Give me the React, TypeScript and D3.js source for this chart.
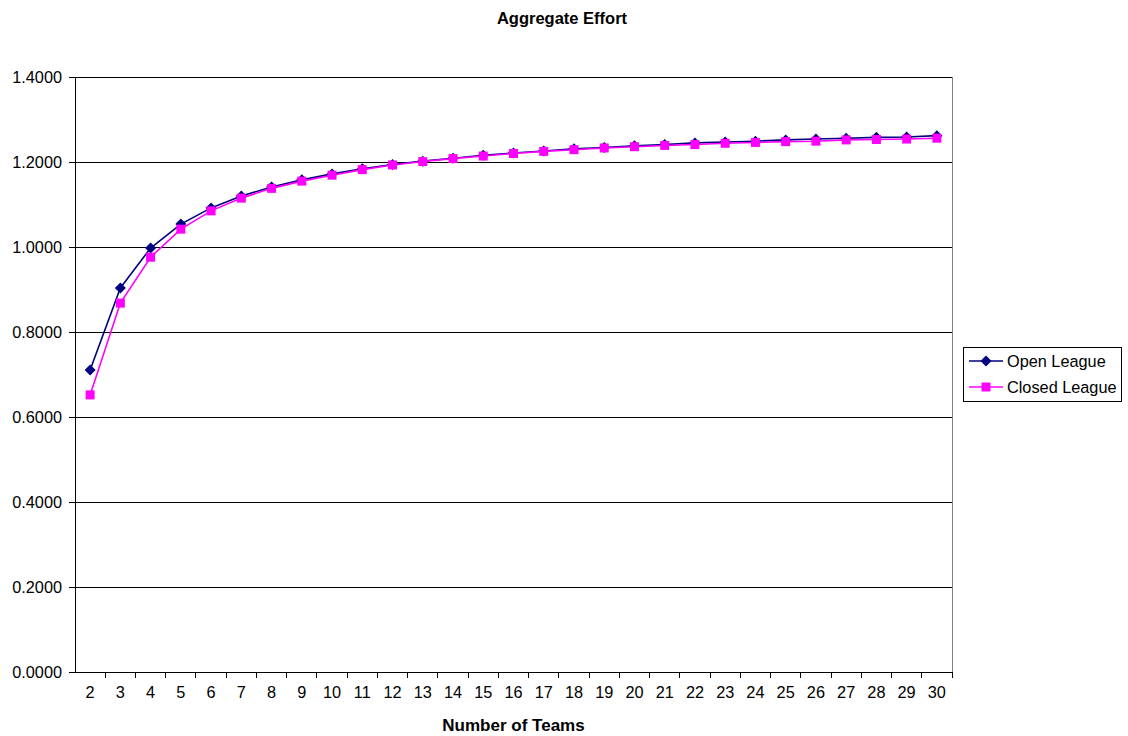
import * as React from "react";
import { scaleBand, scaleLinear, line as d3Line, range } from "d3";

const teams: number[] = range(2, 31);
const openLeague: number[] = [
  0.7106, 0.9035, 0.9976, 1.054, 1.092, 1.12, 1.141, 1.158, 1.172, 1.184,
  1.194, 1.202, 1.209, 1.216, 1.221, 1.226, 1.231, 1.234, 1.238, 1.241,
  1.245, 1.247, 1.249, 1.252, 1.254, 1.256, 1.258, 1.259, 1.262,
];
const closedLeague: number[] = [
  0.652, 0.868, 0.976, 1.042, 1.085, 1.115, 1.138, 1.155, 1.169, 1.182,
  1.193, 1.201, 1.208, 1.214, 1.22, 1.225, 1.229, 1.233, 1.236, 1.239,
  1.241, 1.244, 1.246, 1.248, 1.249, 1.252, 1.253, 1.254, 1.256,
];
const yTicks: number[] = [0, 0.2, 0.4, 0.6, 0.8, 1.0, 1.2, 1.4];

const W = 1128;
const H = 736;
const margin = { top: 77, right: 176, bottom: 64, left: 75 };
const font = "'Liberation Sans', Arial, sans-serif";

// excel style markers
const diamond = "M0,-5.5L5.5,0L0,5.5L-5.5,0Z";
const square = "M-4.5,-4.5H4.5V4.5H-4.5Z";

const App = () => {
  const innerW = W - margin.left - margin.right;
  const innerH = H - margin.top - margin.bottom;

  const x = scaleBand<number>().domain(teams).range([0, innerW]);
  const y = scaleLinear().domain([0, 1.4]).range([innerH, 0]);
  const cx = (t: number) => (x(t) as number) + x.bandwidth() / 2;

  const line = d3Line<number>()
    .x((_, i) => cx(teams[i]))
    .y(d => y(d));

  const series = [
    { name: "Open League", values: openLeague, color: "#000080", marker: diamond },
    { name: "Closed League", values: closedLeague, color: "#FF00FF", marker: square },
  ];

  return (
    <svg
      width={W}
      height={H}
      style={{ position: "absolute", left: 0, top: 0, background: "#fff" }}
      fontFamily={font}
    >
      <text x={562} y={24} textAnchor="middle" fontSize={16.5} fontWeight="bold">
        Aggregate Effort
      </text>
      <g transform={`translate(${margin.left},${margin.top})`}>
        {yTicks.map(t => (
          <g key={t}>
            <line x1={0} x2={innerW} y1={y(t)} y2={y(t)} stroke="#000" strokeWidth={1} shapeRendering="crispEdges" />
            <line x1={-6} x2={0} y1={y(t)} y2={y(t)} stroke="#000" shapeRendering="crispEdges" />
            <text x={-13} y={y(t) + 6} textAnchor="end" fontSize={16.3}>
              {t.toFixed(4)}
            </text>
          </g>
        ))}
        <line x1={0} x2={0} y1={0} y2={innerH} stroke="#000" shapeRendering="crispEdges" />
        <line x1={innerW} x2={innerW} y1={0} y2={innerH} stroke="#808080" shapeRendering="crispEdges" />
        {teams.map(t => (
          <line
            key={"tk" + t}
            x1={(x(t) as number) + x.bandwidth()}
            x2={(x(t) as number) + x.bandwidth()}
            y1={innerH}
            y2={innerH + 6}
            stroke="#000"
            shapeRendering="crispEdges"
          />
        ))}
        {teams.map(t => (
          <text key={"tl" + t} x={cx(t)} y={innerH + 26} textAnchor="middle" fontSize={16.3}>
            {t}
          </text>
        ))}
        {series.map(s => (
          <g key={s.name}>
            <path d={line(s.values) as string} fill="none" stroke={s.color} strokeWidth={1.6} />
            {s.values.map((v, i) => (
              <path key={i} d={s.marker} transform={`translate(${cx(teams[i])},${y(v)})`} fill={s.color} />
            ))}
          </g>
        ))}
      </g>
      <text x={margin.left + innerW / 2} y={731} textAnchor="middle" fontSize={17} fontWeight="bold">
        Number of Teams
      </text>
      <g transform="translate(963,347)">
        <rect x={0.5} y={0.5} width={158} height={54} fill="#fff" stroke="#000" />
        {series.map((s, i) => (
          <g key={s.name} transform={`translate(0,${14 + i * 26})`}>
            <line x1={6} x2={40} y1={0} y2={0} stroke={s.color} strokeWidth={1.6} />
            <path d={s.marker} transform="translate(23,0)" fill={s.color} />
            <text x={44} y={6} fontSize={16.3}>
              {s.name}
            </text>
          </g>
        ))}
      </g>
    </svg>
  );
};

export default App;
